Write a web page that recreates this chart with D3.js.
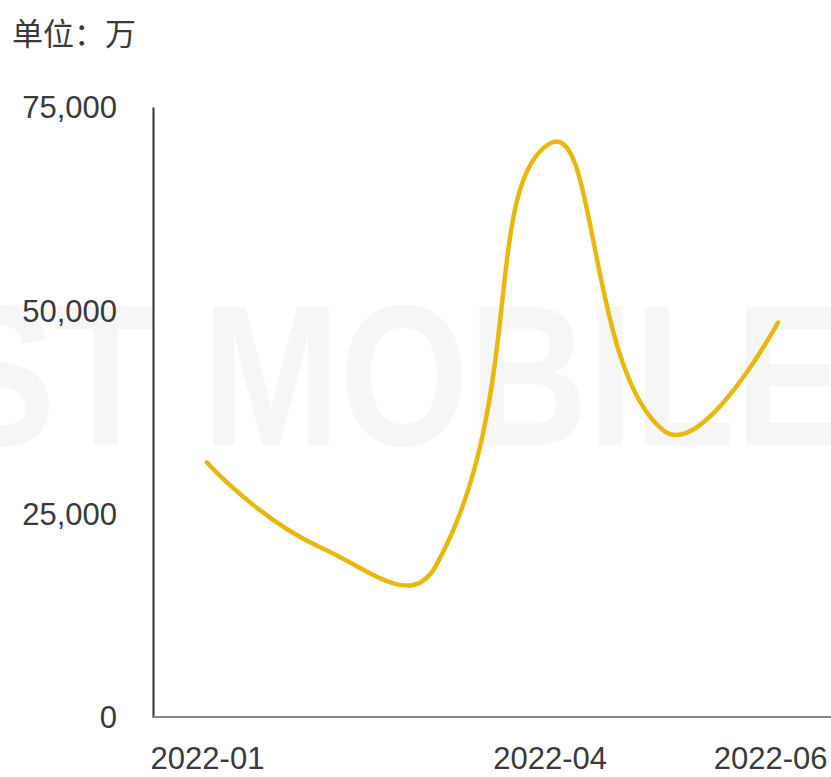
<!DOCTYPE html>
<html><head><meta charset="utf-8">
<script src="https://cdn.jsdelivr.net/npm/d3@7/dist/d3.min.js"></script>
<style>html,body{margin:0;padding:0;background:#fff;} svg{display:block;}</style>
</head><body><svg id="chart" width="831" height="777"></svg>
<script>
// ---- data ----
const months = ["2022-01","2022-02","2022-03","2022-04","2022-05","2022-06"];
const values = [31300, 20800, 18500, 70500, 35200, 48500];
const yTicks = [0, 25000, 50000, 75000];
const xTickLabels = ["2022-01","2022-04","2022-06"];
const unitLabel = "单位：万";
const watermark = "ST MOBILE";

// ---- layout ----
const W = 831, H = 777;
const svg = d3.select("#chart");
const font = "'Liberation Sans', Arial, sans-serif";

const x = d3.scalePoint().domain(months).range([207, 778]);
const y = d3.scaleLinear().domain([0, 75000]).range([717, 107]);

// watermark
svg.append("text")
  .attr("x", -55).attr("y", 445)
  .attr("font-family", font).attr("font-size", 200).attr("font-weight", "bold")
  .attr("textLength", 900).attr("lengthAdjust", "spacingAndGlyphs")
  .attr("fill", "#f6f6f6")
  .text(watermark);

// unit label
svg.append("text")
  .attr("x", 12).attr("y", 45)
  .attr("font-family", "'Noto Sans CJK SC', sans-serif").attr("font-size", 31)
  .attr("fill", "#3a3a3a")
  .text(unitLabel);

// y axis
const yAxis = svg.append("g").attr("transform", "translate(153,0)")
  .call(d3.axisLeft(y).tickValues(yTicks).tickFormat(d3.format(","))
        .tickSize(0).tickSizeOuter(0).tickPadding(36));
yAxis.select(".domain").attr("stroke", "#333").attr("stroke-width", 2);
yAxis.selectAll("text").attr("font-family", font).attr("font-size", 31)
  .attr("fill", "#3a3a3a").attr("dy", "0.35em");

// x axis line
svg.append("line")
  .attr("x1", 152).attr("x2", W).attr("y1", y(0)).attr("y2", y(0))
  .attr("stroke", "#888").attr("stroke-width", 2);

const xAxis = svg.append("g").attr("transform", `translate(0,${y(0)})`)
  .call(d3.axisBottom(x).tickValues(xTickLabels).tickSize(0).tickPadding(30));
xAxis.select(".domain").remove();
xAxis.selectAll("text").attr("font-family", font).attr("font-size", 31).attr("fill", "#3a3a3a");
xAxis.selectAll(".tick").each(function(d) {
  const t = d3.select(this).select("text");
  const w = t.node().getComputedTextLength();
  const cx = x(d);
  if (cx + w / 2 > W - 4) t.attr("x", (W - 4) - w / 2 - cx);
});

// smooth curve (segment-length weighted bezier smoothing)
function smoothCurve(context) {
  let pts = [];
  const s = 0.5;
  return {
    areaStart() {}, areaEnd() {},
    lineStart() { pts = []; },
    point(px, py) { pts.push([+px, +py]); },
    lineEnd() {
      const n = pts.length; if (!n) return;
      context.moveTo(pts[0][0], pts[0][1]);
      let c1 = pts[0].slice();
      for (let i = 1; i < n; i++) {
        const p = pts[i], prev = pts[i - 1], next = pts[i + 1];
        let c0, ratio = 0.5, v = [0, 0];
        if (!next) { c0 = p.slice(); }
        else {
          v = [next[0] - prev[0], next[1] - prev[1]];
          const lp = Math.hypot(p[0] - prev[0], p[1] - prev[1]);
          const ln = Math.hypot(next[0] - p[0], next[1] - p[1]);
          ratio = ln / (ln + lp);
          c0 = [p[0] - v[0] * s * (1 - ratio), p[1] - v[1] * s * (1 - ratio)];
        }
        context.bezierCurveTo(c1[0], c1[1], c0[0], c0[1], p[0], p[1]);
        c1 = [p[0] + v[0] * s * ratio, p[1] + v[1] * s * ratio];
      }
    }
  };
}

const data = months.map((m, i) => ({ m, v: values[i] }));
svg.append("path")
  .datum(data)
  .attr("fill", "none")
  .attr("stroke", "#E8B80C")
  .attr("stroke-width", 4.5)
  .attr("stroke-linecap", "round")
  .attr("d", d3.line().x(d => x(d.m)).y(d => y(d.v)).curve(smoothCurve));
</script>
</body></html>
